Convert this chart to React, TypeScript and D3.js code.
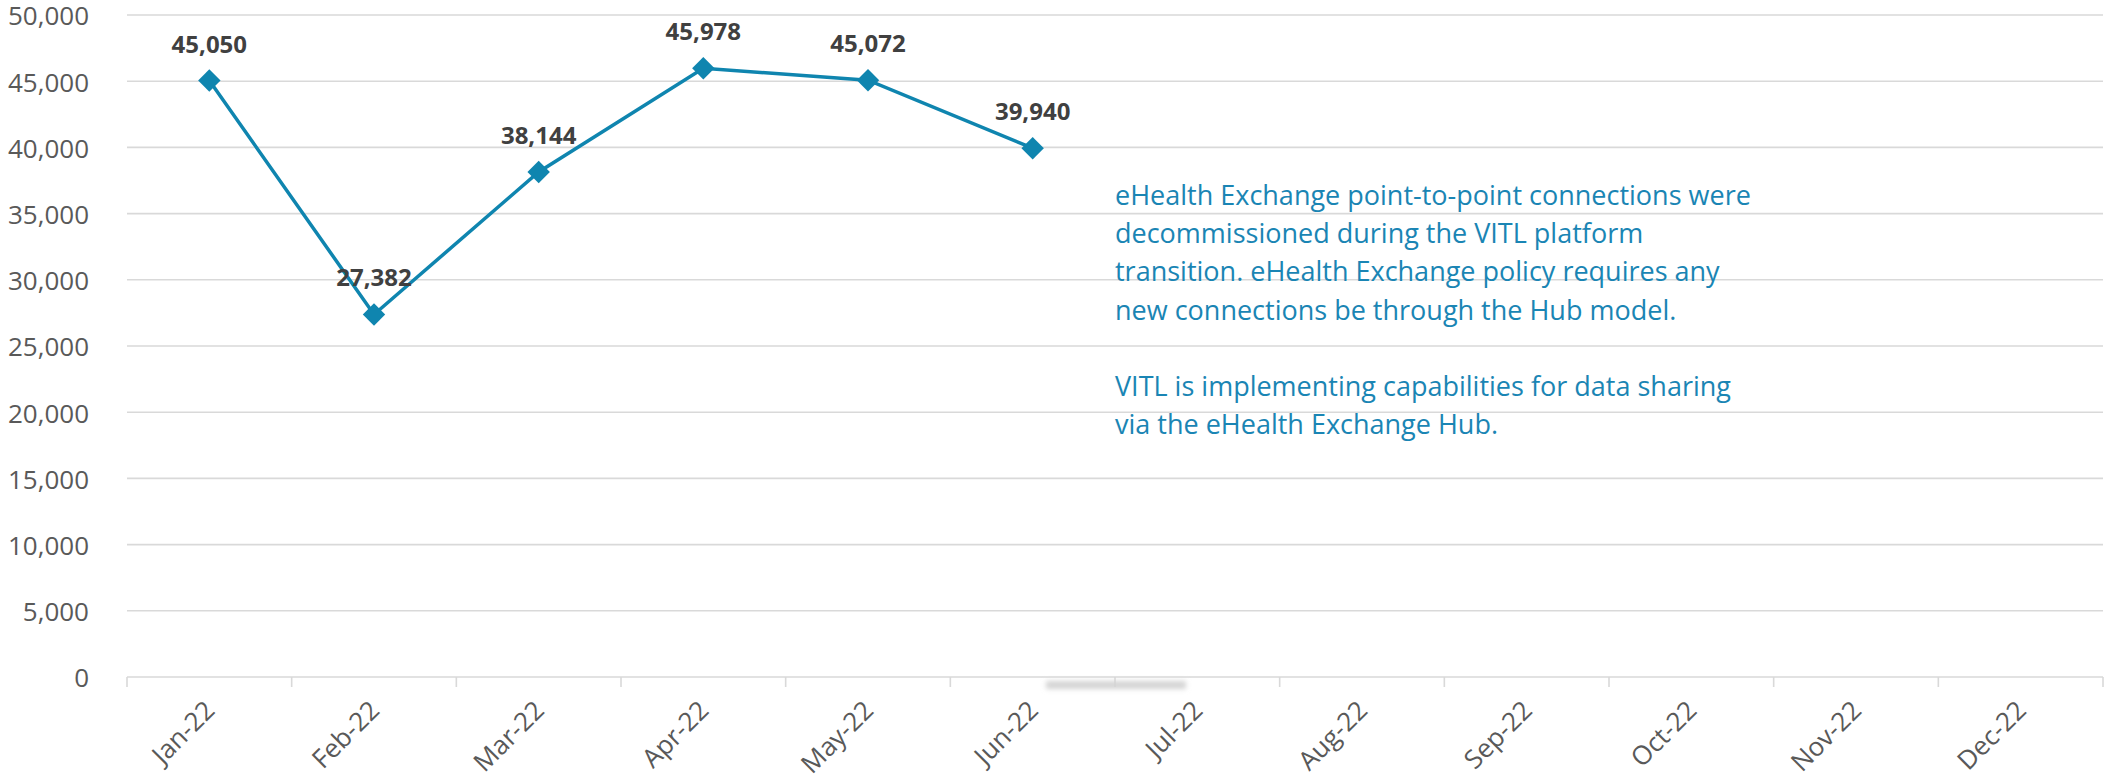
import React, { useEffect } from "react";
import * as d3 from "d3";

const months = ["Jan-22","Feb-22","Mar-22","Apr-22","May-22","Jun-22","Jul-22","Aug-22","Sep-22","Oct-22","Nov-22","Dec-22"];
const values = [45050, 27382, 38144, 45978, 45072, 39940];
const yTicks = [0, 5000, 10000, 15000, 20000, 25000, 30000, 35000, 40000, 45000, 50000];
const noteLines = [
  "eHealth Exchange point-to-point connections were",
  "decommissioned during the VITL platform",
  "transition. eHealth Exchange policy requires any",
  "new connections be through the Hub model.",
  "",
  "VITL is implementing capabilities for data sharing",
  "via the eHealth Exchange Hub.",
];

const W = 2106, H = 780;
const left = 127, right = 2103, top = 15, bottom = 677;
const LINE = "#0F85AF";
const FONT = "'Open Sans', 'Noto Sans', sans-serif";

export default function App() {
  useEffect(() => {
    document.body.style.margin = "0";
  }, []);
  const x = d3.scaleBand<string>().domain(months).range([left, right]).padding(0);
  const y = d3.scaleLinear().domain([0, 50000]).range([bottom, top]);
  const fmt = d3.format(",");
  const pts = values.map((v, i) => [x(months[i])! + x.bandwidth() / 2, y(v)] as [number, number]);
  const line = d3.line()(pts) || "";
  const diamond = d3.symbol().type(d3.symbolDiamond2).size(320)() || "";
  const boundaries = d3.range(months.length + 1).map(i => left + i * x.bandwidth());
  return (
    <svg width={W} height={H} style={{ display: "block", background: "#fff" }}>
      <defs>
        <filter id="blur" x="-20%" y="-100%" width="140%" height="300%">
          <feGaussianBlur stdDeviation="2.5" />
        </filter>
      </defs>
      {yTicks.map(t => (
        <g key={t}>
          <line x1={left} x2={right} y1={y(t)} y2={y(t)} stroke="#d9d9d9" strokeWidth={1.6} />
          <text x={89} y={y(t) + 1} dy="0.36em" textAnchor="end" fontFamily={FONT} fontSize={26} fill="#595959">{fmt(t)}</text>
        </g>
      ))}
      {boundaries.map((b, i) => (
        <line key={i} x1={b} x2={b} y1={bottom} y2={bottom + 10} stroke="#d9d9d9" strokeWidth={1.6} />
      ))}
      <rect x={1046} y={681} width={140} height={8} fill="#d4d4d4" filter="url(#blur)" />
      {months.map(m => {
        const cx = x(m)! + x.bandwidth() / 2 + 7;
        const cy = bottom + 35;
        return (
          <text key={m} transform={`translate(${cx},${cy}) rotate(-45)`} textAnchor="end" fontFamily={FONT} fontSize={26} fill="#595959">{m}</text>
        );
      })}
      <path d={line} fill="none" stroke={LINE} strokeWidth={3.5} />
      {pts.map((p, i) => (
        <path key={i} d={diamond} transform={`translate(${p[0]},${p[1]})`} fill={LINE} />
      ))}
      {pts.map((p, i) => (
        <text key={"l" + i} x={p[0]} y={p[1] - 28} textAnchor="middle" fontFamily={FONT} fontWeight={700} fontSize={24} fill="#404040">{fmt(values[i])}</text>
      ))}
      {noteLines.map((t, i) => (
        <text key={"n" + i} x={1115} y={205 + i * 38.2} fontFamily={FONT} fontSize={27} fill="#1A85B4">{t}</text>
      ))}
    </svg>
  );
}
